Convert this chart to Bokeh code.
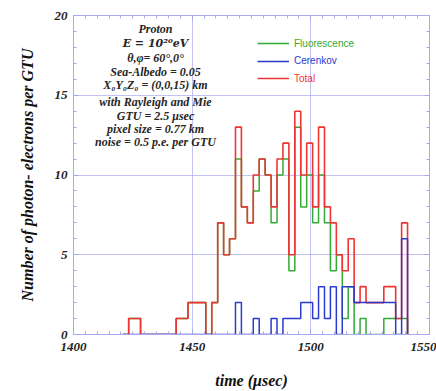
from bokeh.plotting import figure
from bokeh.models import (FixedTicker, LinearAxis, Label, Legend, LegendItem,
                          Range1d, Grid, CustomJSTickFormatter)
from bokeh.embed import file_html
from bokeh.resources import INLINE

# ---------------- data ----------------
GTU = 2.5                 # bin width (usec)
t_start = 1420.75         # left edge of first bin (usec)

total = [0, 1, 1, 0, 0, 0, 0, 0, 0, 1, 1, 2, 2, 2, 0, 2, 7, 5, 6,
         13, 8, 7, 10, 11, 10, 8, 11, 12, 5, 14, 10, 12, 8, 13, 8, 7, 5, 4, 6,
         2, 3, 2, 2, 2, 3, 3, 1, 7]
fluorescence = [0, 1, 1, 0, 0, 0, 0, 0, 0, 1, 1, 2, 2, 2, 0, 2, 7, 5, 6,
                11, 8, 7, 9, 11, 10, 7, 10, 11, 4, 13, 8, 10, 7, 10, 7, 4, 5, 1, 3,
                0, 1, 0, 0, 0, 1, 1, 1, 1]
cerenkov = [0, 0, 0, 0, 0, 0, 0, 0, 0, 0, 0, 0, 0, 0, 0, 0, 0, 0, 0,
            2, 0, 0, 1, 0, 0, 1, 0, 1, 1, 1, 2, 2, 1, 3, 1, 3, 0, 3, 3,
            2, 2, 2, 2, 2, 2, 2, 0, 6]

x_ticks = [1400, 1450, 1500, 1550]
y_ticks = [0, 5, 10, 15, 20]
series_names = ["Fluorescence", "Cerenkov", "Total"]
info_lines = ["Proton",
              "E = 10\u00b2\u2070eV",
              "\u03b8,\u03c6= 60\u00b0,0\u00b0",
              "Sea-Albedo = 0.05",
              "X\u2080Y\u2080Z\u2080 = (0,0,15) km",
              "with Rayleigh and Mie",
              "GTU = 2.5 \u03bcsec",
              "pixel size = 0.77 km",
              "noise = 0.5 p.e. per GTU"]

# ---------------- styling ----------------
FRAME = "#a8a8ee"
SERIF = "Liberation Serif"
GREEN = "#33aa33"
BLUE = "#2a3acc"
RED = "#f03434"

n = len(total)
edges = [t_start + GTU * i for i in range(n + 1)]

p = figure(width=436, height=391, output_backend="svg", toolbar_location=None,
           x_range=Range1d(1400, 1550), y_range=Range1d(0, 20),
           x_axis_location=None, y_axis_location=None,
           min_border_left=73, min_border_right=7, min_border_top=15,
           min_border_bottom=57)
p.background_fill_color = "white"
p.border_fill_color = "white"
p.outline_line_color = FRAME
p.outline_line_width = 1

xt = FixedTicker(ticks=x_ticks, minor_ticks=list(range(1400, 1551, 5)))
yt = FixedTicker(ticks=y_ticks, minor_ticks=list(range(0, 21, 1)))
blank = CustomJSTickFormatter(code="return '';")


def style_axis(ax, labels):
    ax.axis_line_color = FRAME
    ax.major_tick_line_color = FRAME
    ax.minor_tick_line_color = FRAME
    ax.major_tick_in = 5
    ax.major_tick_out = 0
    ax.minor_tick_in = 3
    ax.minor_tick_out = 0
    if labels:
        ax.major_label_text_font = SERIF
        ax.major_label_text_font_style = "bold italic"
        ax.major_label_text_font_size = "13px"
        ax.major_label_text_color = "#222222"
        ax.axis_label_text_font = SERIF
        ax.axis_label_text_font_style = "bold italic"
        ax.axis_label_text_font_size = "16px"
        ax.axis_label_text_color = "#111111"
    else:
        ax.formatter = blank
        ax.major_label_standoff = 0


left = LinearAxis(ticker=yt, axis_label="Number of photon- electrons per GTU")
style_axis(left, True)
left.major_label_standoff = 6
left.axis_label_standoff = 16
bottom = LinearAxis(ticker=xt, axis_label="time (\u03bcsec)")
style_axis(bottom, True)
bottom.major_label_standoff = 8
bottom.axis_label_standoff = 18
right = LinearAxis(ticker=yt)
style_axis(right, False)
top = LinearAxis(ticker=xt)
style_axis(top, False)
p.add_layout(left, "left")
p.add_layout(bottom, "below")
p.add_layout(right, "right")
p.add_layout(top, "above")

p.xgrid.visible = False
p.ygrid.visible = False
p.add_layout(Grid(dimension=0, ticker=xt, grid_line_color=FRAME, grid_line_alpha=0.7))
p.add_layout(Grid(dimension=1, ticker=yt, grid_line_color=FRAME, grid_line_alpha=0.7))

# histograms drawn as steps
r_fl = p.step(edges, fluorescence + [0], mode="after", line_color=GREEN, line_width=1.5)
r_tot = p.step(edges, total + [0], mode="after", line_color=RED, line_width=1.6)
r_ce = p.step(edges, cerenkov + [0], mode="after", line_color=BLUE, line_width=1.5)

# legend: one per item so each label has its own colour
for i, (name, rend, col) in enumerate(zip(series_names, [r_fl, r_ce, r_tot], [GREEN, BLUE, RED])):
    lg = Legend(items=[LegendItem(label=name, renderers=[rend])],
                location=(184, 284 - 17.5 * i), orientation="vertical",
                background_fill_alpha=0, border_line_alpha=0,
                padding=0, margin=0, glyph_width=32, glyph_height=14,
                label_height=14, label_standoff=5,
                label_text_font="Liberation Sans", label_text_font_size="10px",
                label_text_color=col)
    p.add_layout(lg, "center")

# info text block (screen coords relative to the frame)
ys = [306, 291.5, 277, 263, 249.5, 233, 219, 206, 193]
for k, (line, yy) in enumerate(zip(info_lines, ys)):
    font = "DejaVu Serif" if k == 1 else SERIF
    size = "11px" if k == 1 else "12px"
    p.add_layout(Label(x=82, y=yy, x_units="screen", y_units="screen", text=line,
                       text_align="center", text_baseline="middle",
                       text_font=font, text_font_style="bold italic",
                       text_font_size=size, text_color="#262626"))

open("out.html", "w").write(file_html(p, INLINE))
